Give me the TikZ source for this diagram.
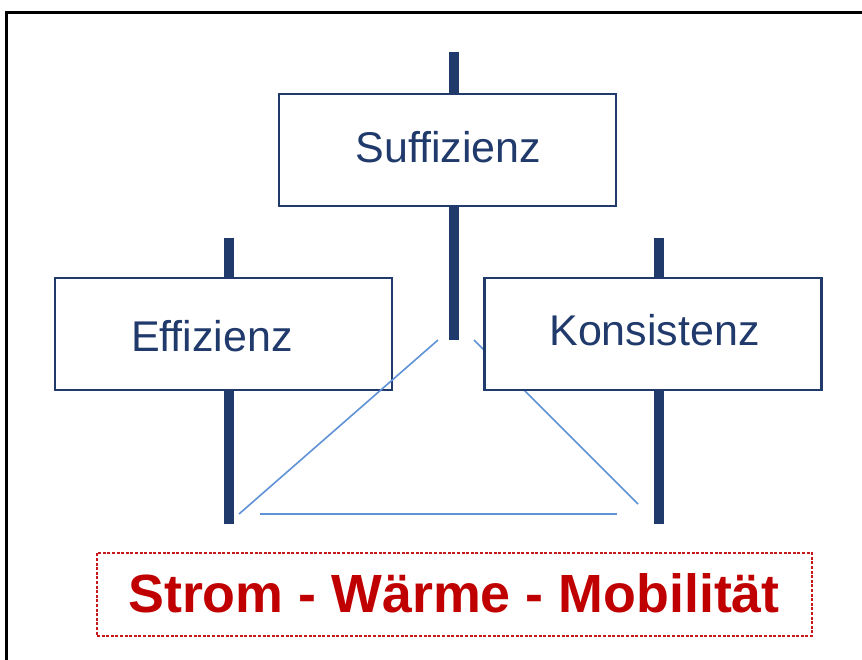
\documentclass[tikz,border=0pt]{standalone}
\usepackage{fontspec}
\setmainfont{Liberation Sans}
\definecolor{navy}{RGB}{33,58,108}
\definecolor{lblue}{RGB}{95,146,214}
\definecolor{dred}{RGB}{192,0,0}
\tikzset{
  box/.style={draw=navy, line width=2.8pt, fill=white, minimum width=337pt, minimum height=112pt, inner sep=0pt},
  post/.style={draw=navy, line width=10pt},
  thin/.style={draw=lblue, line width=1.6pt},
  lbl/.style={text=navy, font=\fontsize{43}{50}\selectfont, anchor=base, inner sep=0pt},
  red/.style={text=dred, font=\fontsize{53.8}{60}\selectfont\bfseries, anchor=base, inner sep=0pt},
  redbox/.style={draw=dred!90, line width=1.2pt, dash pattern=on 3pt off 1.6pt, minimum width=715pt, minimum height=83pt, inner sep=0pt}
}
\begin{document}
\begin{tikzpicture}[x=1pt,y=-1pt]
\useasboundingbox (0,0) rectangle (862,660);
\fill[white] (0,0) rectangle (862,660);
% frame
\draw[line width=2.6pt, black] (6.3,662) -- (6.3,12.8) -- (864,12.8);
% post coordinates
\coordinate (st) at (453.5,52);
\coordinate (sb) at (453.5,340);
\coordinate (et) at (229,238);
\coordinate (eb) at (229,524);
\coordinate (kt) at (658.5,238);
\coordinate (kb) at (658.5,524);
\draw[post] (st) -- (sb);
\draw[post] (et) -- (eb);
\draw[post] (kt) -- (kb);
% Effizienz box
\node[box] (eff) at (223.5,334) {};
% thin lines
\coordinate (a1) at (438,340);
\coordinate (a2) at (239,514);
\coordinate (b1) at (474,340);
\coordinate (b2) at (638,504);
\coordinate (c1) at (260,514);
\coordinate (c2) at (617,514);
\draw[thin] (a1) -- (a2);
\draw[thin] (b1) -- (b2);
\draw[thin] (c1) -- (c2);
% other boxes
\node[box] (kon) at (653,334) {};
\node[box] (suf) at (447.5,150) {};
% labels
\node[lbl] (sufl) at (448.5,163) {Suffizienz};
\node[lbl] (effl) at (212,351) {Effizienz};
\node[lbl] (konl) at (654.5,345) {Konsistenz};
% bottom
\node[redbox] (rb) at (454.5,594.5) {};
\node[red] (rt) at (454,612) {Strom - Wärme - Mobilität};
\end{tikzpicture}
\end{document}
